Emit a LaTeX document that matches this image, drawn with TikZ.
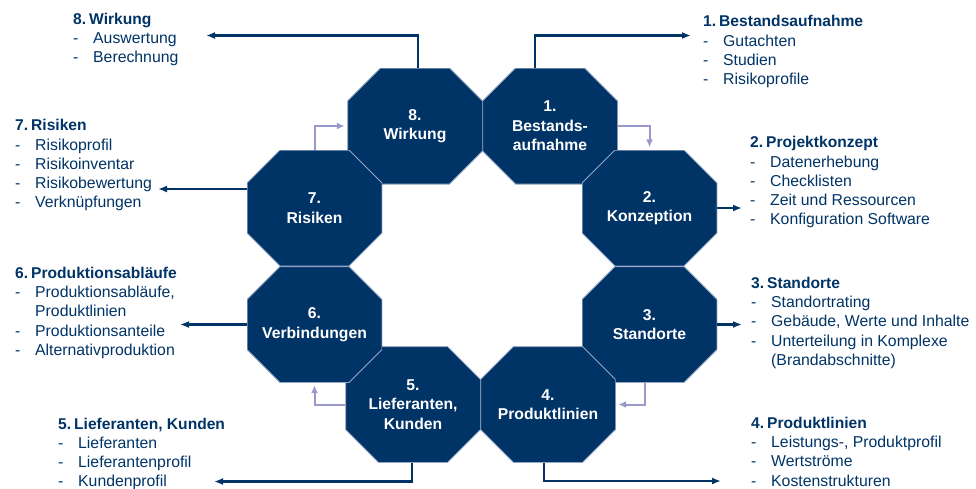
\documentclass[tikz,border=0pt]{standalone}
\usepackage{fontspec}
\setmainfont{Liberation Sans}
\usetikzlibrary{arrows.meta, calc}
\definecolor{navy}{RGB}{0,51,102}
\definecolor{lilac}{RGB}{153,153,204}
\definecolor{octline}{RGB}{150,168,198}
\newcommand\itm[1]{\makebox[20pt][l]{-}#1}
\newcommand\hd[2]{{\fontsize{15.6}{19.3}\selectfont\bfseries #1\kern3pt#2}}

\begin{document}
\begin{tikzpicture}[x=1pt,y=-1pt]
    \pgfmathsetmacro{\Cut}{33}
    \tikzset{
      octa/.style={
        minimum width=135pt,
        minimum height=116pt,
        inner sep=0pt,
        align=center,
        text=white,
        font=\fontsize{15.7}{19.5}\selectfont\bfseries,
        path picture={
          \fill[navy, draw=octline, line width=1pt]
               ([xshift=\Cut]path picture bounding box.north west)
            -- ([xshift=-\Cut]path picture bounding box.north east)
            -- ([yshift=-\Cut]path picture bounding box.north east)
            -- ([yshift=\Cut]path picture bounding box.south east)
            -- ([xshift=-\Cut]path picture bounding box.south east)
            -- ([xshift=\Cut]path picture bounding box.south west)
            -- ([yshift=\Cut]path picture bounding box.south west)
            -- ([yshift=-\Cut]path picture bounding box.north west)
            -- cycle;
        }
      },
      % base = baseline of the last line
      lst/.style={
        anchor=base west,
        align=left,
        inner sep=0pt,
        text=navy,
        font=\fontsize{15.8}{19.3}\selectfont,
      },
      vert/.style={to path={|- (\tikztotarget)}},
      horz/.style={to path={-| (\tikztotarget)}},
      linkarr/.style={navy, line width=2.2pt, -{Latex[length=9pt,width=7pt]}},
      cyclearr/.style={lilac, line width=2pt, -{Latex[length=8pt,width=7pt]},
                       shorten >=2.5pt},
    }
    \useasboundingbox (0,0) rectangle (976,488);

    % ring of steps
    \node[octa] (o8) at (415,126)     {8.\\Wirkung};
    \node[octa] (o1) at (550,126)     {1.\\Bestands-\\aufnahme};
    \node[octa] (o2) at (649.5,208)   {2.\\Konzeption};
    \node[octa] (o3) at (649.5,324.5) {3.\\Standorte};
    \node[octa] (o4) at (548,404.5)   {4.\\Produktlinien};
    \node[octa] (o5) at (413,404.5)   {5.\\Lieferanten,\\Kunden};
    \node[octa] (o6) at (314.5,324.5) {6.\\Verbindungen};
    \node[octa] (o7) at (314.5,208)   {7.\\Risiken};

    % details
    \node[lst] (l8) at (73,62.6)
        {\hd{8.}{Wirkung}\\\itm{Auswertung}\\\itm{Berechnung}};
    \node[lst] (l1) at (703,84.6)
        {\hd{1.}{Bestandsaufnahme}\\\itm{Gutachten}\\\itm{Studien}\\\itm{Risikoprofile}};
    \node[lst] (l2) at (750,224.9)
        {\hd{2.}{Projektkonzept}\\\itm{Datenerhebung}\\\itm{Checklisten}\\
         \itm{Zeit und Ressourcen}\\\itm{Konfiguration Software}};
    \node[lst] (l3) at (751,365.5)
        {\hd{3.}{Standorte}\\\itm{Standortrating}\\\itm{Gebäude, Werte und Inhalte}\\
         \itm{Unterteilung in Komplexe}\\\hspace*{20pt}(Brandabschnitte)};
    \node[lst] (l4) at (751,486.2)
        {\hd{4.}{Produktlinien}\\\itm{Leistungs-, Produktprofil}\\\itm{Wertströme}\\
         \itm{Kostenstrukturen}};
    \node[lst] (l5) at (58,486.9)
        {\hd{5.}{Lieferanten, Kunden}\\\itm{Lieferanten}\\\itm{Lieferantenprofil}\\
         \itm{Kundenprofil}};
    \node[lst] (l6) at (15,355.5)
        {\hd{6.}{Produktionsabläufe}\\\itm{Produktionsabläufe,}\\\hspace*{20pt}Produktlinien\\
         \itm{Produktionsanteile}\\\itm{Alternativproduktion}};
    \node[lst] (l7) at (15,207.9)
        {\hd{7.}{Risiken}\\\itm{Risikoprofil}\\\itm{Risikoinventar}\\
         \itm{Risikobewertung}\\\itm{Verknüpfungen}};

    \coordinate (t8) at (206,35.5);
    \coordinate (t1) at (691,35.5);
    \coordinate (t2) at (742,208);
    \coordinate (t3) at (742,324.5);
    \coordinate (t4) at (721,481);
    \coordinate (t5) at (214,481.5);
    \coordinate (t6) at (180,324.5);
    \coordinate (t7) at (158,189);

    % to the details
    \path[linkarr]
        ([xshift=3pt]o8.north)   edge[vert] (t8)
        ([xshift=-15pt]o1.north) edge[vert] (t1)
        (o2.east)                edge (t2)
        (o3.east)                edge (t3)
        ([xshift=-4pt]o4.south)  edge[vert] (t4)
        ([xshift=-1pt]o5.south)  edge[vert] (t5)
        (o6.west)                edge (t6)
        ([yshift=19pt]o7.west)   edge (t7);

    % cycle
    \path[cyclearr]
        (o7.north)              edge[vert] (o8.west)
        (o1.east)               edge[horz] (o2.north)
        ([xshift=-5pt]o3.south) edge[vert] (o4.east)
        (o5.west)               edge[horz] (o6.south);
\end{tikzpicture}
\end{document}
